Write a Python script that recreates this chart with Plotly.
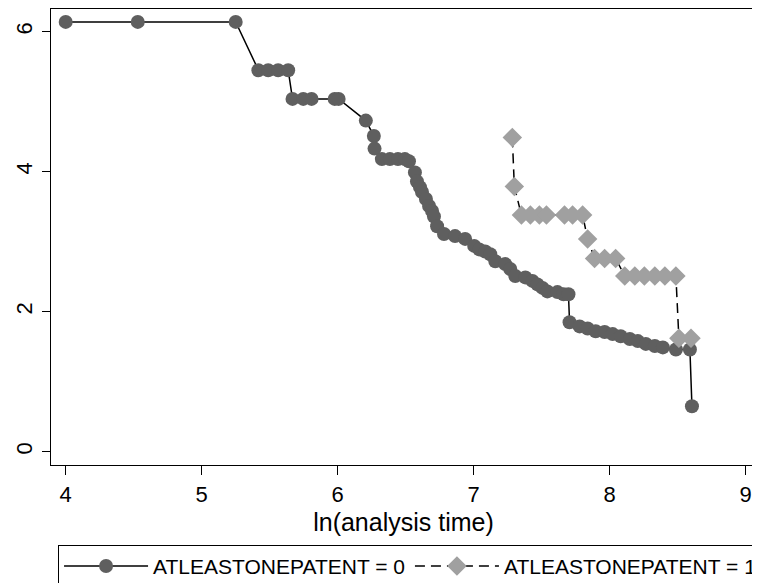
import plotly.graph_objects as go

# Series 0: ATLEASTONEPATENT = 0
x0 = [4.00, 4.53, 5.25, 5.417, 5.489, 5.562, 5.636, 5.668, 5.747, 5.808, 5.978, 6.007,
      6.207, 6.266, 6.271, 6.325, 6.384, 6.443, 6.494, 6.524, 6.568, 6.583, 6.605, 6.620,
      6.649, 6.672, 6.694, 6.708, 6.731, 6.782, 6.863, 6.937, 7.004, 7.041, 7.085, 7.122,
      7.159, 7.232, 7.269, 7.306, 7.380, 7.432, 7.469, 7.506, 7.542, 7.616, 7.661, 7.697,
      7.705, 7.779, 7.838, 7.897, 7.963, 8.022, 8.081, 8.148, 8.207, 8.266, 8.332, 8.391,
      8.487, 8.590, 8.605]
y0 = [6.14, 6.14, 6.14, 5.45, 5.45, 5.45, 5.45, 5.04, 5.04, 5.04, 5.04, 5.04,
      4.73, 4.51, 4.33, 4.18, 4.18, 4.18, 4.18, 4.15, 3.99, 3.86, 3.78, 3.71,
      3.61, 3.51, 3.44, 3.36, 3.22, 3.11, 3.08, 3.04, 2.94, 2.89, 2.86, 2.82,
      2.72, 2.68, 2.61, 2.51, 2.49, 2.44, 2.39, 2.34, 2.29, 2.28, 2.25, 2.25,
      1.85, 1.79, 1.76, 1.72, 1.71, 1.68, 1.65, 1.61, 1.58, 1.54, 1.51, 1.49,
      1.46, 1.46, 0.65]

# Series 1: ATLEASTONEPATENT = 1
x1 = [7.284, 7.299, 7.351, 7.417, 7.483, 7.535, 7.668, 7.727, 7.801, 7.838,
      7.889, 7.963, 8.044, 8.111, 8.185, 8.255, 8.332, 8.406, 8.487, 8.509, 8.598]
y1 = [4.49, 3.79, 3.38, 3.38, 3.38, 3.38, 3.38, 3.38, 3.38, 3.04,
      2.76, 2.76, 2.76, 2.51, 2.51, 2.51, 2.51, 2.51, 2.51, 1.62, 1.62]

names = ["ATLEASTONEPATENT = 0", "ATLEASTONEPATENT = 1"]
x_ticks = [4, 5, 6, 7, 8, 9]
y_ticks = [0, 2, 4, 6]
x_title = "ln(analysis time)"

FONT = "Liberation Sans, Arial, sans-serif"

fig = go.Figure()
fig.add_trace(go.Scatter(
    x=x0, y=y0, name=names[0], mode="lines+markers",
    line=dict(color="black", width=1.5),
    marker=dict(symbol="circle", size=14, color="#5f5f5f", line=dict(width=0)),
))
fig.add_trace(go.Scatter(
    x=x1, y=y1, name=names[1], mode="lines+markers",
    line=dict(color="black", width=1.5, dash="10px,6px"),
    marker=dict(symbol="diamond", size=15, color="#a0a0a0", line=dict(width=0)),
))

fig.update_layout(
    width=760, height=583,
    margin=dict(l=43, r=12, t=1, b=126, autoexpand=False),
    paper_bgcolor="white", plot_bgcolor="white",
    font=dict(family=FONT, color="black"),
    showlegend=True,
    legend=dict(
        orientation="h", x=0.01, xanchor="left", y=-0.175, yanchor="top",
        bordercolor="black", borderwidth=1, bgcolor="white",
        font=dict(size=21, family=FONT, color="black"),
        itemwidth=84,
    ),
    xaxis=dict(
        range=[3.892, 9.076], tickvals=x_ticks, ticktext=[str(v) for v in x_ticks],
        ticks="outside", ticklen=9, tickcolor="black", tickwidth=1,
        showgrid=False, zeroline=False, showline=True, mirror=True,
        linecolor="black", linewidth=1.3, automargin=False,
        tickfont=dict(size=22, family=FONT),
        title=dict(text=x_title, font=dict(size=25, family=FONT), standoff=7),
    ),
    yaxis=dict(
        range=[-0.19, 6.324], tickvals=y_ticks, ticktext=[str(v) for v in y_ticks],
        ticks="outside", ticklen=8, tickcolor="black", tickwidth=1, tickangle=-90,
        showgrid=False, zeroline=False, showline=True, mirror=True,
        linecolor="black", linewidth=1.3, automargin=False,
        tickfont=dict(size=22, family=FONT), ticklabelstandoff=1,
    ),
)

fig.write_html("out.html")
